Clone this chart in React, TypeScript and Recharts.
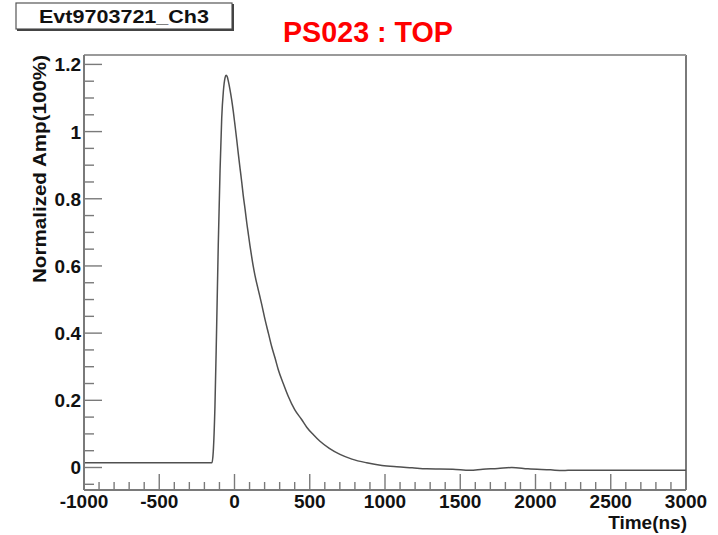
import { LineChart, Line, XAxis, YAxis, ReferenceLine } from "recharts"

// time (ns) and normalized amplitude
const timeNs = [
  -1000, -150, -141, -130, -119, -108, -96, -85, -74, -63, -56, -48, -41, -30, -19, -8,
  3, 15, 25, 37, 48, 58, 70, 81, 92, 103, 114, 125, 136, 158, 180, 203, 225, 247, 270,
  291, 324, 357, 400, 446, 480, 523, 568, 630, 701, 780, 878, 980, 1078, 1180, 1277,
  1450, 1564, 1650, 1750, 1842, 1950, 2100, 2183, 2250, 3000,
]
const amp = [
  0.014, 0.014, 0.048, 0.18, 0.41, 0.66, 0.885, 1.04, 1.12, 1.16, 1.168, 1.163, 1.15,
  1.125, 1.095, 1.06, 1.02, 0.975, 0.935, 0.89, 0.85, 0.81, 0.77, 0.73, 0.695, 0.66,
  0.628, 0.598, 0.572, 0.529, 0.487, 0.44, 0.4, 0.36, 0.325, 0.291, 0.25, 0.212, 0.172,
  0.143, 0.12, 0.098, 0.078, 0.057, 0.039, 0.025, 0.014, 0.006, 0.002, -0.001, -0.004,
  -0.005, -0.008, -0.005, -0.003, 0.0, -0.004, -0.007, -0.009, -0.008, -0.008,
]

const xTicks = [
  -1000, -900, -800, -700, -600, -500, -400, -300, -200, -100, 0, 100, 200, 300, 400,
  500, 600, 700, 800, 900, 1000, 1100, 1200, 1300, 1400, 1500, 1600, 1700, 1800, 1900,
  2000, 2100, 2200, 2300, 2400, 2500, 2600, 2700, 2800, 2900, 3000,
]
const yTicks = [
  -0.05, 0, 0.05, 0.1, 0.15, 0.2, 0.25, 0.3, 0.35, 0.4, 0.45, 0.5, 0.55, 0.6, 0.65, 0.7,
  0.75, 0.8, 0.85, 0.9, 0.95, 1, 1.05, 1.1, 1.15, 1.2,
]

const xDomain = [-1000, 3000]
const yDomain = [-0.067, 1.228]

const FONT = "'Liberation Sans', Arial, Helvetica, sans-serif"
const AXIS = "#7a7a7a"

const data = timeNs.map((t, i) => ({ t, v: amp[i] }))

const XTick = (props: any) => {
  const { x, y, payload } = props
  const v = payload.value
  const major = v % 500 === 0
  return (
    <g>
      <line x1={x} x2={x} y1={y} y2={y - (major ? 16 : 8)} stroke={AXIS} strokeWidth={1.4} />
      {major && (
        <text x={x} y={y + 18} textAnchor="middle" fontFamily={FONT} fontWeight="bold" fontSize={19} fill="#111">
          {v}
        </text>
      )}
    </g>
  )
}

const YTick = (props: any) => {
  const { x, y, payload } = props
  const v = payload.value
  const major = Math.abs(v * 5 - Math.round(v * 5)) < 1e-6
  return (
    <g>
      <line x1={x} x2={x + (major ? 18 : 10)} y1={y} y2={y} stroke={AXIS} strokeWidth={1.4} />
      {major && (
        <text x={x - 3} y={y + 7} textAnchor="end" fontFamily={FONT} fontWeight="bold" fontSize={19} fill="#111">
          {String(v)}
        </text>
      )}
    </g>
  )
}

export default function App() {
  return (
    <div style={{ position: "absolute", left: 0, top: 0, width: 718, height: 535, background: "#fff" }}>
      <LineChart width={718} height={535} data={data} margin={{ top: 55, right: 32, left: 0, bottom: 0 }}>
        <XAxis
          dataKey="t"
          type="number"
          domain={xDomain}
          ticks={xTicks}
          interval={0}
          allowDataOverflow
          height={45}
          tickSize={0}
          tickMargin={0}
          tickLine={false}
          tick={<XTick />}
          axisLine={{ stroke: AXIS, strokeWidth: 2 }}
        />
        <YAxis
          type="number"
          domain={yDomain}
          ticks={yTicks}
          interval={0}
          allowDataOverflow
          width={84}
          tickSize={0}
          tickMargin={0}
          tickLine={false}
          tick={<YTick />}
          axisLine={{ stroke: AXIS, strokeWidth: 2 }}
        />
        <ReferenceLine x={3000} stroke={AXIS} strokeWidth={2} />
        <ReferenceLine y={1.228} stroke="#9a9a9a" strokeWidth={2} />
        <Line
          type="monotone"
          dataKey="v"
          stroke="#505050"
          strokeWidth={1.5}
          dot={false}
          isAnimationActive={false}
        />
      </LineChart>

      <svg width={718} height={535} style={{ position: "absolute", left: 0, top: 0, pointerEvents: "none" }}>
        <rect x={16} y={3} width={216} height={26} fill="#fff" stroke="#555" strokeWidth={1.2} />
        <line x1={17} y1={30} x2={233} y2={30} stroke="#444" strokeWidth={2} />
        <line x1={233} y1={4} x2={233} y2={31} stroke="#444" strokeWidth={2} />
        <text x={124} y={23} textAnchor="middle" fontFamily={FONT} fontWeight="bold" fontSize={18} fill="#111" textLength={170} lengthAdjust="spacingAndGlyphs">
          Evt9703721_Ch3
        </text>
        <text x={368} y={42} textAnchor="middle" fontFamily={FONT} fontWeight="bold" fontSize={29} fill="#ff0000" textLength={170} lengthAdjust="spacingAndGlyphs">
          PS023 : TOP
        </text>
        <text
          transform="translate(46 283) rotate(-90)"
          x={0}
          y={0}
          textAnchor="start"
          fontFamily={FONT}
          fontWeight="bold"
          fontSize={18}
          fill="#111"
          textLength={228}
          lengthAdjust="spacingAndGlyphs"
        >
          Normalized Amp(100%)
        </text>
        <text x={687} y={529} textAnchor="end" fontFamily={FONT} fontWeight="bold" fontSize={19} fill="#111">
          Time(ns)
        </text>
      </svg>
    </div>
  )
}
